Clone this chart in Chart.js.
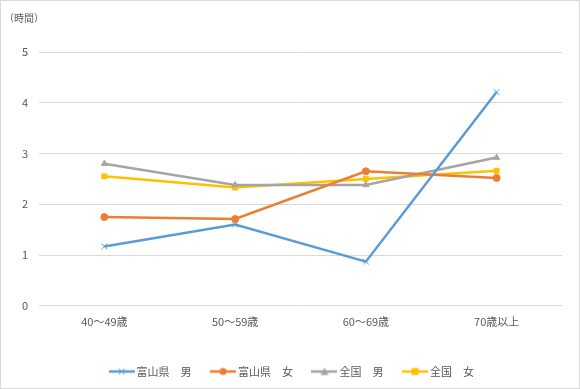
<!DOCTYPE html>
<html><head><meta charset="utf-8">
<script src="https://cdn.jsdelivr.net/npm/chart.js@4/dist/chart.umd.min.js"></script>
<style>html,body{margin:0;padding:0;background:#fff}#wrap{width:580px;height:389px}</style>
</head><body><div id="wrap"><canvas id="c" width="580" height="389"></canvas></div>
<script>
const categories = ['40～49歳', '50～59歳', '60～69歳', '70歳以上'];
const toyamaMale = [1.17, 1.60, 0.87, 4.21];
const toyamaFemale = [1.75, 1.71, 2.65, 2.52];
const nationalMale = [2.80, 2.38, 2.38, 2.92];
const nationalFemale = [2.55, 2.33, 2.50, 2.66];
const seriesNames = ['富山県　男', '富山県　女', '全国　男', '全国　女'];
const yTicks = [0, 1, 2, 3, 4, 5];
const unitLabel = '（時間）';

const FONT = "'Noto Sans CJK JP', 'Noto Sans', sans-serif";
const colors = ['#5B9BD5', '#ED7D31', '#A5A5A5', '#FFC000'];
const styles = ['crossRot', 'circle', 'triangle', 'rect'];

function legendIcon(color, style) {
  const cv = document.createElement('canvas');
  cv.width = 26; cv.height = 10;
  const ctx = cv.getContext('2d');
  ctx.strokeStyle = color; ctx.lineWidth = 2.5;
  ctx.beginPath(); ctx.moveTo(0, 5); ctx.lineTo(26, 5); ctx.stroke();
  ctx.fillStyle = color; ctx.strokeStyle = color; ctx.lineWidth = 1;
  ctx.beginPath();
  if (style === 'circle') { ctx.arc(13, 5, 3.5, 0, Math.PI*2); ctx.fill(); }
  else if (style === 'rect') { ctx.fillRect(9.5, 1.5, 7, 7); }
  else if (style === 'triangle') { ctx.moveTo(13, 1); ctx.lineTo(17, 8.5); ctx.lineTo(9, 8.5); ctx.closePath(); ctx.fill(); }
  else { ctx.moveTo(10, 2); ctx.lineTo(16, 8); ctx.moveTo(16, 2); ctx.lineTo(10, 8); ctx.stroke(); }
  return cv;
}

const dataArrays = [toyamaMale, toyamaFemale, nationalMale, nationalFemale];
const datasets = dataArrays.map((d, i) => ({
  label: seriesNames[i],
  data: d,
  borderColor: colors[i],
  backgroundColor: colors[i],
  borderWidth: 2.5,
  pointStyle: styles[i],
  pointRadius: i === 0 ? 4 : 3.5,
  pointBorderWidth: 1,
  pointHoverRadius: 3.5,
  tension: 0
}));

const frame = {
  id: 'frame',
  afterLayout(chart) {
    if (chart.legend) { chart.legend.left += 12; chart.legend.right += 12; }
  },
  afterDraw(chart) {
    const ctx = chart.ctx;
    ctx.save();
    ctx.strokeStyle = '#D9D9D9'; ctx.lineWidth = 1;
    ctx.strokeRect(0.5, 0.5, chart.width - 1, chart.height - 1);
    ctx.fillStyle = '#595959';
    ctx.font = '10px ' + FONT;
    ctx.textBaseline = 'middle';
    ctx.fillText(unitLabel, 4, 18);
    ctx.restore();
  }
};

new Chart(document.getElementById('c'), {
  type: 'line',
  data: { labels: categories, datasets },
  options: {
    responsive: false,
    animation: false,
    events: [],
    layout: { padding: { top: 52, right: 18, left: 0, bottom: 2 } },
    plugins: {
      legend: {
        position: 'bottom',
        labels: {
          font: { family: FONT, size: 11 },
          color: '#595959',
          usePointStyle: true,
          pointStyleWidth: 19,
          padding: 22,
          generateLabels(chart) {
            return chart.data.datasets.map((ds, i) => ({
              text: ds.label,
              pointStyle: legendIcon(colors[i], styles[i]),
              fillStyle: colors[i],
              strokeStyle: colors[i],
              lineWidth: 0,
              hidden: false,
              datasetIndex: i,
              fontColor: '#595959'
            }));
          }
        }
      },
      tooltip: { enabled: false },
      title: { display: false }
    },
    scales: {
      x: {
        offset: true,
        afterFit(scale) { scale.height += 7; },
        grid: { display: false, drawTicks: false },
        border: { display: false },
        ticks: { font: { family: FONT, size: 11 }, color: '#595959', padding: 9 }
      },
      y: {
        min: 0, max: 5,
        afterBuildTicks(scale) { scale.ticks = yTicks.map(v => ({ value: v })); },
        afterFit(scale) { scale.width = 39; },
        grid: { color: '#D9D9D9', lineWidth: 1, drawTicks: false },
        border: { display: false },
        ticks: { font: { family: FONT, size: 11 }, color: '#595959', padding: 11 }
      }
    }
  },
  plugins: [frame]
});
</script>
</body></html>
